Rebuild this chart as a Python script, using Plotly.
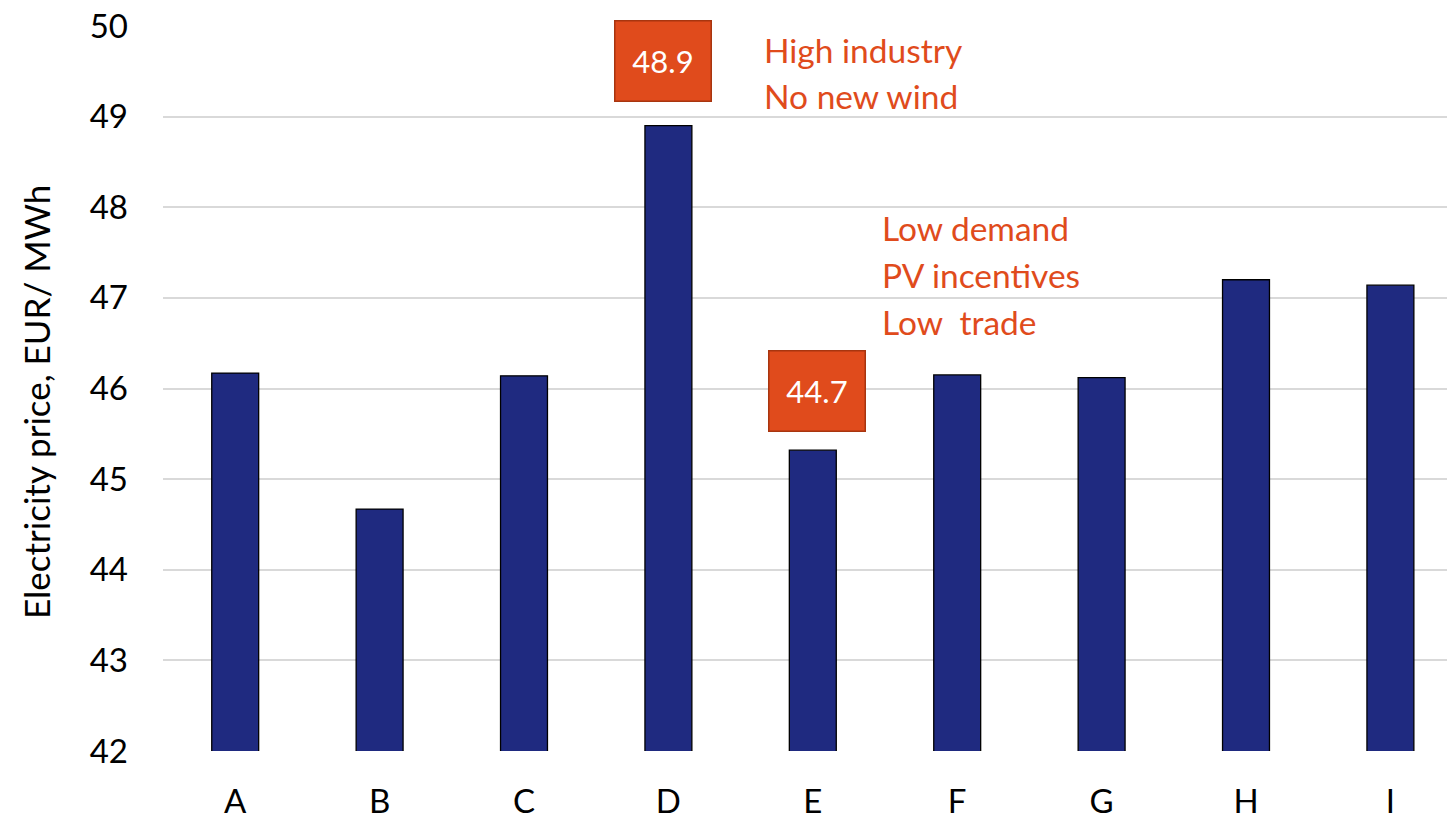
import plotly.graph_objects as go

# Scenario electricity prices
scenarios = ["A", "B", "C", "D", "E", "F", "G", "H", "I"]
prices = [46.17, 44.67, 46.14, 48.90, 45.32, 46.15, 46.12, 47.20, 47.14]

y_ticks = [42, 43, 44, 45, 46, 47, 48, 49, 50]

note_high = ["High industry", "No new wind"]
note_low = ["Low demand", "PV incentives", "Low  trade"]

ORANGE = "#E04B1C"
NAVY = "#1F2A80"
FONT = "Lato"

fig = go.Figure()
fig.add_trace(go.Bar(
    x=list(range(len(scenarios))),
    y=prices,
    width=0.325,
    marker=dict(color=NAVY, line=dict(color="#000000", width=1.3)),
    hoverinfo="x+y",
))

W, H = 1447, 820
L, R, T, B = 163, 0, 26, 67
pw = W - L - R
ph = H - T - B
n_vis = pw / 144.4  # categories visible across the plot width

def px_to_paper_x(px):
    return (px - L) / pw

def px_to_paper_y(py):
    return (H - B - py) / ph

annotations = []

# value boxes for the extreme scenarios
lo_val = min(prices)
for label, cx, cy in [(f"{max(prices):.1f}", 663, 61.5), (f"{lo_val:.1f}", 816.5, 392)]:
    annotations.append(dict(
        x=px_to_paper_x(cx), y=px_to_paper_y(cy), xref="paper", yref="paper",
        text=label, showarrow=False,
        font=dict(family=FONT, size=31, color="white"),
        bgcolor=ORANGE, bordercolor="#A8350F", borderwidth=1.5,
        width=93, height=77, align="center", valign="middle",
        xanchor="center", yanchor="middle",
    ))

for i, line in enumerate(note_high):
    annotations.append(dict(
        x=px_to_paper_x(762), y=px_to_paper_y(50 + 46 * i), xref="paper", yref="paper",
        text=line, showarrow=False, xanchor="left", yanchor="middle",
        font=dict(family=FONT, size=33.5, color=ORANGE),
    ))

for i, line in enumerate(note_low):
    annotations.append(dict(
        x=px_to_paper_x(880), y=px_to_paper_y(229 + 47 * i), xref="paper", yref="paper",
        text=line.replace("  ", "&nbsp; "), showarrow=False, xanchor="left", yanchor="middle",
        font=dict(family=FONT, size=33.5, color=ORANGE),
    ))

# y-axis title
annotations.append(dict(
    x=px_to_paper_x(36), y=px_to_paper_y(403), xref="paper", yref="paper",
    text="Electricity price, EUR/ MWh", textangle=-90, showarrow=False,
    xanchor="center", yanchor="middle",
    font=dict(family=FONT, size=35, color="black"),
))

fig.update_layout(
    width=W, height=H,
    margin=dict(l=L, r=R, t=T, b=B, pad=0),
    paper_bgcolor="white", plot_bgcolor="white",
    showlegend=False,
    annotations=annotations,
    font=dict(family=FONT, color="black"),
    xaxis=dict(
        range=[-0.5, -0.5 + n_vis],
        tickmode="array",
        tickvals=list(range(len(scenarios))),
        ticktext=scenarios,
        tickfont=dict(family=FONT, size=33, color="black"),
        showgrid=False, zeroline=False, showline=False, ticks="",
        ticklabelstandoff=28,
    ),
    yaxis=dict(
        range=[42, 50],
        tickvals=y_ticks,
        tickfont=dict(family=FONT, size=33, color="black"),
        showgrid=True, gridcolor="#D9D9D9", gridwidth=2,
        zeroline=False, showline=False, ticks="",
        ticklabelstandoff=34,
    ),
)

fig.write_html("out.html")
